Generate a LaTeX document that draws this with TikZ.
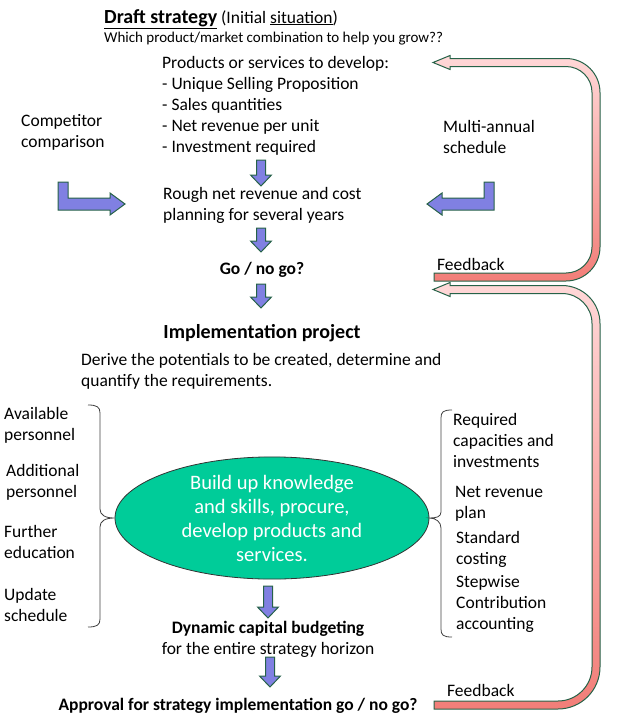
\documentclass[tikz,border=0pt]{standalone}
\usepackage{fontspec}
\setmainfont{Carlito}
\usetikzlibrary{shapes.geometric}
\definecolor{arrowblue}{RGB}{128,128,226}
\definecolor{arrowline}{RGB}{38,98,72}
\definecolor{ellgreen}{RGB}{0,204,153}
\definecolor{fblight}{RGB}{255,216,216}
\definecolor{fbdark}{RGB}{242,126,120}
\begin{document}
\begin{tikzpicture}[x=1pt, y=-1pt,
  txt/.style={anchor=base west, align=left, inner sep=0pt, font=\fontsize{17.5}{21}\selectfont},
  ctr/.style={anchor=base, align=center, inner sep=0pt, font=\fontsize{17.5}{21}\selectfont},
  blockarrow/.style={fill=arrowblue, draw=arrowline, line width=1pt},
  fbarrow/.style={top color=fblight, bottom color=fbdark, draw=arrowline, line width=1pt},
  brace/.style={draw=black!75, line width=0.8pt}]
\useasboundingbox (0,0) rectangle (621,726);

% draft strategy (multi-line nodes sit on their last baseline)
\node[txt] (title) at (104,23) {{\fontsize{20}{24}\selectfont\bfseries\underline{Draft strategy}} (Initial \underline{situation})};
\node[txt, font=\fontsize{15}{18}\selectfont] (question) at (104,42) {Which product/market combination to help you grow??};
\node[txt] (products) at (162,152) {Products or services to develop:\\- Unique Selling Proposition\\- Sales quantities\\- Net revenue per unit\\- Investment required};
\node[txt] (competitor) at (21,147) {Competitor\\comparison};
\node[txt] (multiannual) at (443,153) {Multi-annual\\schedule};
\node[txt] (rough) at (163,220) {Rough net revenue and cost\\planning for several years};
\node[ctr, font=\fontsize{17.5}{21}\selectfont\bfseries] (gonogo) at (262,274) {Go / no go?};
\node[txt] (fbtop) at (437,270) {Feedback};

% implementation project
\node[ctr, font=\fontsize{20}{24}\selectfont\bfseries] (project) at (262,338) {Implementation project};
\node[txt] (derive) at (81,386) {Derive the potentials to be created, determine and\\quantify the requirements.};
\node[txt] (available) at (4,440) {Available\\personnel};
\node[txt] (additional) at (6,497) {Additional\\personnel};
\node[txt] (further) at (4,558) {Further\\education};
\node[txt] (update) at (4,621) {Update\\schedule};
\node[ellipse, draw=black!80, line width=0.8pt, fill=ellgreen, text=white, minimum width=314pt, minimum height=114pt, inner sep=0pt, align=center, font=\fontsize{20.5}{24}\selectfont] (build) at (272,518) {Build up knowledge\\and skills, procure,\\develop products and\\services.};
\node[txt] (required) at (453,467) {Required\\capacities and\\investments};
\node[txt] (netplan) at (455,518) {Net revenue\\plan};
\node[txt] (standard) at (456,564) {Standard\\costing};
\node[txt] (stepwise) at (456,629) {Stepwise\\Contribution\\accounting};
\node[ctr, font=\fontsize{17.5}{21}\selectfont\bfseries] (budgeting) at (268,633) {Dynamic capital budgeting};
\node[ctr] (horizon) at (268,654) {for the entire strategy horizon};
\node[ctr, font=\fontsize{17.5}{21}\selectfont\bfseries] (approval) at (238,710) {Approval for strategy implementation go / no go?};
\node[txt] (fbbottom) at (447,696) {Feedback};

% braces
\draw[brace] (88,405) .. controls (97,405) and (100,407) .. (100,413) -- (100,509)
  .. controls (100,515) and (105,518) .. (build.west)
  .. controls (105,518) and (100,521) .. (100,527) -- (100,619)
  .. controls (100,625) and (97,627) .. (88,627);
\draw[brace] (452,410) .. controls (443,410) and (441,412) .. (441,418) -- (441,512)
  .. controls (441,517) and (436,518) .. (build.east)
  .. controls (436,518) and (441,522) .. (441,528) -- (441,629)
  .. controls (441,635) and (443,637) .. (452,637);

% block arrows downwards
\foreach \x/\ya/\yb in {261/160/186, 261/228/252, 261/284/308, 268/586/618, 270/657/687}
  \draw[blockarrow] (\x-4.5,\ya) -- (\x+4.5,\ya) -- (\x+4.5,\yb-11) -- (\x+10.5,\yb-11)
    -- (\x,\yb) -- (\x-10.5,\yb-11) -- (\x-4.5,\yb-11) -- cycle;

% bent arrows
\draw[blockarrow] (58,182) -- (68,182) -- (68,198) -- (110,198) -- (110,193) -- (125,204)
  -- (110,215) -- (110,210) -- (58,210) -- cycle;
\draw[blockarrow] (494,182) -- (484,182) -- (484,198) -- (442,198) -- (442,193) -- (427,204)
  -- (442,215) -- (442,210) -- (494,210) -- cycle;

% feedback arrows
\draw[fbarrow] (450,58.5) -- (566,58.5) arc[start angle=-90, end angle=0, radius=34]
  -- (600,247) arc[start angle=0, end angle=90, radius=34] -- (434,281) -- (434,273)
  -- (566,273) arc[start angle=90, end angle=0, radius=26] -- (592,92.5)
  arc[start angle=0, end angle=-90, radius=26] -- (450,66.5) -- (450,69.5) -- (433,62.5)
  -- (450,55.5) -- cycle;
\draw[fbarrow] (450,285.5) -- (562,285.5) arc[start angle=-90, end angle=0, radius=38]
  -- (600,667) arc[start angle=0, end angle=90, radius=42] -- (434,709) -- (434,701)
  -- (558,701) arc[start angle=90, end angle=0, radius=34] -- (592,323.5)
  arc[start angle=0, end angle=-90, radius=30] -- (450,293.5) -- (450,296.5) -- (433,289.5)
  -- (450,282.5) -- cycle;
\end{tikzpicture}
\end{document}
